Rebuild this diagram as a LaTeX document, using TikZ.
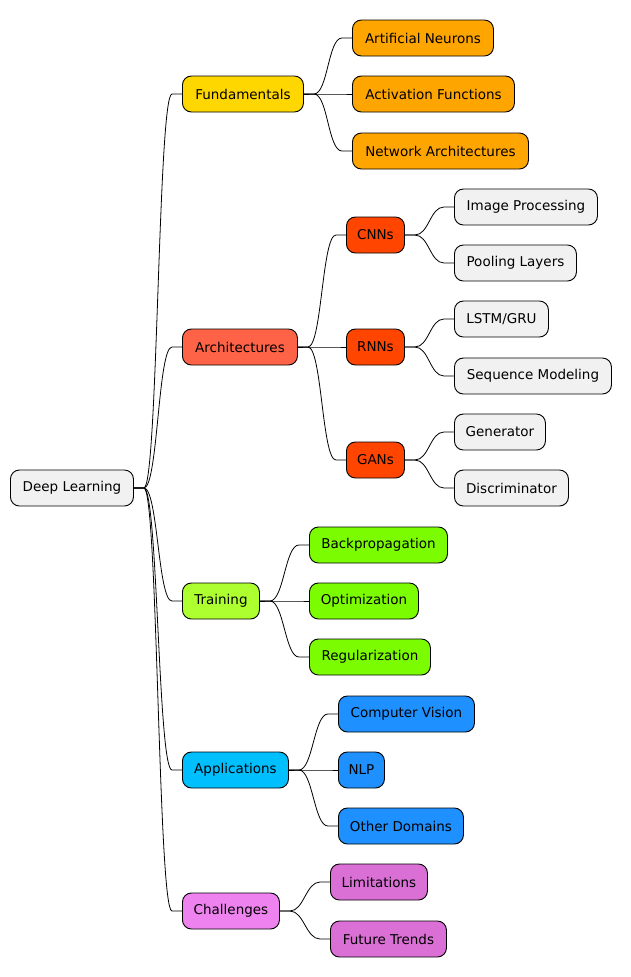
\documentclass[tikz,border=0pt]{standalone}
\usepackage{fontspec}
\setmainfont{DejaVu Sans}
\usetikzlibrary{calc}
\definecolor{def}{HTML}{F1F1F1}
\definecolor{gold}{HTML}{FFD700}
\definecolor{orng}{HTML}{FFA500}
\definecolor{tomato}{HTML}{FF6347}
\definecolor{ored}{HTML}{FF4500}
\definecolor{gy}{HTML}{ADFF2F}
\definecolor{lg}{HTML}{7CFC00}
\definecolor{dsb}{HTML}{00BFFF}
\definecolor{db}{HTML}{1E90FF}
\definecolor{vio}{HTML}{EE82EE}
\definecolor{orch}{HTML}{DA70D6}
\tikzset{
 box/.style={draw=black,line width=0.9pt,rounded corners=9pt,anchor=west,minimum height=36pt,inner xsep=0pt,font=\fontsize{13.5pt}{15pt}\selectfont,fill=def},
 lk/.style={line width=0.8pt}
}
\newcommand{\bx}[6]{\node[box,fill=#5,minimum width=#3-#2] (#1) at (#2,#4) {#6};}
\newcommand{\lnk}[2]{\draw[lk] (#1.east) -- ++(10,0) .. controls +(14,0) and ($(#2.west)+(-24,0)$) .. ($(#2.west)+(-10,0)$) -- (#2.west);}
\begin{document}
\begin{tikzpicture}[x=1pt,y=-1pt]
\useasboundingbox (0,0) rectangle (631,977);
\bx{dl}{10}{133}{488}{def}{Deep Learning}
\bx{fu}{182}{303}{94}{gold}{Fundamentals}
\bx{an}{352}{493}{38}{orng}{Artificial Neurons}
\bx{af}{352}{514}{94}{orng}{Activation Functions}
\bx{na}{352}{528}{151}{orng}{Network Architectures}
\bx{ar}{182}{297}{347}{tomato}{Architectures}
\bx{cn}{346}{404}{235}{ored}{CNNs}
\bx{ip}{454}{597}{207}{def}{Image Processing}
\bx{pl}{454}{576}{263}{def}{Pooling Layers}
\bx{rn}{346}{404}{347}{ored}{RNNs}
\bx{ls}{454}{548}{319}{def}{LSTM/GRU}
\bx{sm}{454}{611}{376}{def}{Sequence Modeling}
\bx{ga}{346}{404}{460}{ored}{GANs}
\bx{ge}{454}{545}{432}{def}{Generator}
\bx{di}{454}{568}{488}{def}{Discriminator}
\bx{tr}{182}{259}{601}{gy}{Training}
\bx{bp}{309}{447}{545}{lg}{Backpropagation}
\bx{op}{309}{418}{601}{lg}{Optimization}
\bx{rg}{309}{430}{657}{lg}{Regularization}
\bx{ap}{182}{288}{770}{dsb}{Applications}
\bx{cv}{338}{474}{714}{db}{Computer Vision}
\bx{nl}{338}{384}{770}{db}{NLP}
\bx{od}{338}{463}{826}{db}{Other Domains}
\bx{ch}{182}{279}{911}{vio}{Challenges}
\bx{li}{330}{427}{882}{orch}{Limitations}
\bx{ft}{330}{446}{939}{orch}{Future Trends}
\foreach \c in {fu,ar,tr,ap,ch} {\lnk{dl}{\c}}
\foreach \c in {an,af,na} {\lnk{fu}{\c}}
\foreach \c in {cn,rn,ga} {\lnk{ar}{\c}}
\lnk{cn}{ip}\lnk{cn}{pl}\lnk{rn}{ls}\lnk{rn}{sm}\lnk{ga}{ge}\lnk{ga}{di}
\foreach \c in {bp,op,rg} {\lnk{tr}{\c}}
\foreach \c in {cv,nl,od} {\lnk{ap}{\c}}
\foreach \c in {li,ft} {\lnk{ch}{\c}}
\end{tikzpicture}
\end{document}
